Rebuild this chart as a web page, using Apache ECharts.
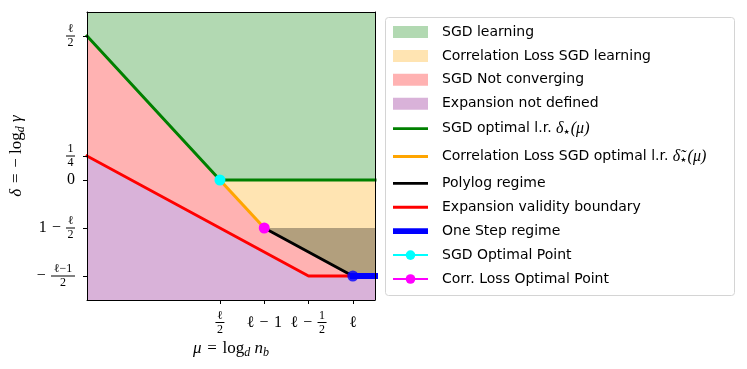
<!DOCTYPE html>
<html>
<head>
<meta charset="utf-8">
<script src="https://cdn.jsdelivr.net/npm/echarts@6/dist/echarts.min.js"></script>
<style>
  html, body { margin: 0; padding: 0; background: #fff; }
  #chart { width: 747px; height: 369px; }
</style>
</head>
<body>
<div id="chart"></div>
<script>
// tick positions (l = 3) and their labels
const muTicks = [1.5, 2, 2.5, 3];
const muTickLabels = [
  '{n|ℓ}\n{bar|}\n{d|2}',
  '{t|ℓ\u2004−\u20041}',
  '{sp|}{n|1}\n{tw|ℓ\u2004−\u2004}{bar|}\n{sp|}{d|2}',
  '{t|ℓ}'
];
const deltaTicks = [1.5, 0.25, 0, -0.5, -1];
const deltaTickLabels = [
  '{n|ℓ}\n{bar|}\n{d|2}',
  '{n|1}\n{bar|}\n{d|4}',
  '{t|0}',
  '{sp|}{n|ℓ}\n{tw|1\u2004−\u2004}{bar|}\n{sp|}{d|2}',
  '{sp2|}{n2|ℓ−1}\n{tw2|−\u2004}{bar2|}\n{sp2|}{d2|2}'
];

// phase regions, vertices in (mu, delta)
const sgdLearning = [[0, 1.75], [0, 1.5], [1.5, 0], [3.25, 0], [3.25, 1.75]];
const corrLearning = [[1.5, 0], [3.25, 0], [3.25, -1], [3, -1], [2, -0.5]];
const notConverging = [[0, 1.5], [1.5, 0], [2, -0.5], [3, -1], [2.5, -1], [0, 0.25]];
const noExpansion = [[0, 0.25], [2.5, -1], [3.25, -1], [3.25, -1.25], [0, -1.25]];
const polylogShade = [[2, -0.5], [3.25, -0.5], [3.25, -1], [3, -1]];

// boundary curves
const sgdOptimal = [[0, 1.5], [1.5, 0], [3.25, 0]];
const corrOptimal = [[1.5, 0], [2, -0.5]];
const polylog = [[2, -0.5], [3, -1]];
const expansionBoundary = [[0, 0.25], [2.5, -1], [3, -1]];
const oneStep = [[3, -1], [3.25, -1]];
const sgdPoint = [[1.5, 0]];
const corrPoint = [[2, -0.5]];
const oneStepPoint = [[3, -1]];

const serif = 'Liberation Serif, DejaVu Serif, serif';
const sans = 'DejaVu Sans, sans-serif';

function fracRich(swidth, s2width) {
  return {
    t: {fontFamily: serif, fontSize: 16, color: '#000', lineHeight: 25, align: 'center'},
    n: {fontFamily: serif, fontSize: 12, color: '#000', lineHeight: 11, width: 9, align: 'center'},
    d: {fontFamily: serif, fontSize: 12, color: '#000', lineHeight: 11, width: 9, align: 'center'},
    bar: {width: 9, height: 1, lineHeight: 3, backgroundColor: '#000', align: 'center'},
    tw: {fontFamily: serif, fontSize: 16, color: '#000', lineHeight: 3, width: swidth, align: 'center'},
    sp: {width: swidth, lineHeight: 11, align: 'center'},
    n2: {fontFamily: serif, fontSize: 12, color: '#000', lineHeight: 11, width: 24, align: 'center'},
    d2: {fontFamily: serif, fontSize: 12, color: '#000', lineHeight: 11, width: 24, align: 'center'},
    bar2: {width: 24, height: 1, lineHeight: 3, backgroundColor: '#000', align: 'center'},
    tw2: {fontFamily: serif, fontSize: 16, color: '#000', lineHeight: 3, width: s2width, align: 'center'},
    sp2: {width: s2width, lineHeight: 11, align: 'center'}
  };
}

function pick(ticks, labels) {
  return v => {
    const i = ticks.findIndex(t => Math.abs(t - v) < 1e-9);
    return i < 0 ? '' : labels[i];
  };
}

function region(name, poly, color) {
  return {
    type: 'custom', name: name, z: 1, silent: true, animation: false,
    itemStyle: {color: color},
    data: poly,
    renderItem: function (params, api) {
      if (params.dataIndex !== 0) return;
      return {
        type: 'polygon',
        shape: {points: poly.map(p => api.coord(p))},
        style: {fill: color}
      };
    }
  };
}

function curve(name, data, color, width) {
  return {
    type: 'line', name: name, data: data, symbol: 'none', z: 3, silent: true, animation: false,
    lineStyle: {color: color, width: width, cap: 'square'},
    itemStyle: {color: color}
  };
}

function point(name, data, color) {
  return {
    type: 'line', name: name, data: data, symbol: 'circle', symbolSize: 11, showSymbol: true,
    z: 4, silent: true, animation: false,
    lineStyle: {color: color, width: 3},
    itemStyle: {color: color}
  };
}

const thinLine = 'path://M0,0H36V3H0Z';
const thickLine = 'path://M0,0H36V6H0Z';

const legendText = {
  'SGD optimal l.r.': 'SGD optimal l.r. {m|δ}{s|★}{m|(μ)}',
  'Correlation Loss SGD optimal l.r.': '{tall|Correlation Loss SGD optimal l.r. }{m|δ\u0303}{s|★}{m|(μ)}'
};

const chart = echarts.init(document.getElementById('chart'));
chart.setOption({
  animation: false,
  graphic: [{
    type: 'rect', left: 385, top: 17, z: 0,
    shape: {width: 349, height: 278, r: 3},
    style: {fill: '#fff', stroke: '#d4d4d4', lineWidth: 1}
  }],
  legend: {
    orient: 'vertical', left: 392, top: 25, padding: 0, itemGap: 9.9,
    itemWidth: 35, itemHeight: 12, selectedMode: false,
    textStyle: {
      fontFamily: sans, fontSize: 14, color: '#000', lineHeight: 14, padding: [0, 0, 0, 9],
      rich: {
        m: {fontFamily: serif, fontStyle: 'italic', fontSize: 16, color: '#000'},
        s: {fontFamily: 'DejaVu Sans', fontSize: 7, color: '#000', padding: [7, 1, 0, 0]},
        tall: {fontFamily: sans, fontSize: 14, color: '#000', lineHeight: 20}
      }
    },
    formatter: name => legendText[name] || name,
    data: [
      {name: 'SGD learning', icon: 'rect'},
      {name: 'Correlation Loss SGD learning', icon: 'rect'},
      {name: 'SGD Not converging', icon: 'rect'},
      {name: 'Expansion not defined', icon: 'rect'},
      {name: 'SGD optimal l.r.', icon: thinLine},
      {name: 'Correlation Loss SGD optimal l.r.', icon: thinLine},
      {name: 'Polylog regime', icon: thinLine},
      {name: 'Expansion validity boundary', icon: thinLine},
      {name: 'One Step regime', icon: thickLine},
      'SGD Optimal Point',
      'Corr. Loss Optimal Point'
    ]
  },
  grid: {left: 87, right: 372, top: 12, bottom: 69},
  xAxis: [{
    type: 'value', min: 0, max: 3.25, position: 'bottom', z: 5,
    axisLine: {onZero: false, lineStyle: {color: '#000', width: 1}},
    axisTick: {customValues: muTicks, length: 4, lineStyle: {color: '#000'}},
    axisLabel: {customValues: muTicks, margin: 10, formatter: pick(muTicks, muTickLabels), rich: fracRich(27, 14)},
    splitLine: {show: false},
    name: '{i|μ}\u2004=\u2004log{sub|d}\u2005{i|n}{sub|b}',
    nameLocation: 'middle', nameGap: 36,
    nameTextStyle: {
      fontFamily: serif, fontSize: 17, color: '#000',
      rich: {
        i: {fontFamily: serif, fontStyle: 'italic', fontSize: 17, color: '#000'},
        sub: {fontFamily: serif, fontStyle: 'italic', fontSize: 12, color: '#000', padding: [8, 0, 0, 0]}
      }
    }
  }, {
    type: 'value', min: 0, max: 3.25, position: 'top', z: 5,
    axisLine: {show: true, onZero: false, lineStyle: {color: '#000', width: 1}},
    axisTick: {show: false}, axisLabel: {show: false}, splitLine: {show: false}
  }],
  yAxis: [{
    type: 'value', min: -1.25, max: 1.75, position: 'left', z: 5,
    axisLine: {show: true, onZero: false, lineStyle: {color: '#000', width: 1}},
    axisTick: {show: true, customValues: deltaTicks, length: 4, lineStyle: {color: '#000'}},
    axisLabel: {customValues: deltaTicks, margin: 12, formatter: pick(deltaTicks, deltaTickLabels), rich: fracRich(27, 14)},
    splitLine: {show: false},
    name: '{i|δ}\u2004=\u2004−\u2005log{sub|d}\u2005{i|γ}',
    nameLocation: 'middle', nameGap: 60, nameRotate: 90,
    nameTextStyle: {
      fontFamily: serif, fontSize: 17, color: '#000',
      rich: {
        i: {fontFamily: serif, fontStyle: 'italic', fontSize: 17, color: '#000'},
        sub: {fontFamily: serif, fontStyle: 'italic', fontSize: 12, color: '#000', padding: [8, 0, 0, 0]}
      }
    }
  }, {
    type: 'value', min: -1.25, max: 1.75, position: 'right', z: 5,
    axisLine: {show: true, onZero: false, lineStyle: {color: '#000', width: 1}},
    axisTick: {show: false}, axisLabel: {show: false}, splitLine: {show: false}
  }],
  series: [
    region('SGD learning', sgdLearning, 'rgba(0,128,0,0.3)'),
    region('Correlation Loss SGD learning', corrLearning, 'rgba(255,165,0,0.3)'),
    region('SGD Not converging', notConverging, 'rgba(255,0,0,0.3)'),
    region('Expansion not defined', noExpansion, 'rgba(128,0,128,0.3)'),
    region('polylog shade', polylogShade, 'rgba(0,0,0,0.3)'),
    curve('SGD optimal l.r.', sgdOptimal, '#008000', 3),
    curve('Correlation Loss SGD optimal l.r.', corrOptimal, '#ffa500', 3),
    curve('Polylog regime', polylog, '#000000', 3),
    curve('Expansion validity boundary', expansionBoundary, '#ff0000', 3),
    curve('One Step regime', oneStep, '#0000ff', 6),
    point('SGD Optimal Point', sgdPoint, '#00ffff'),
    point('Corr. Loss Optimal Point', corrPoint, '#ff00ff'),
    {
      type: 'scatter', name: 'one step point', data: oneStepPoint, symbol: 'circle', symbolSize: 11,
      z: 4, silent: true, itemStyle: {color: '#0000ff'}
    }
  ]
});
</script>
</body>
</html>
